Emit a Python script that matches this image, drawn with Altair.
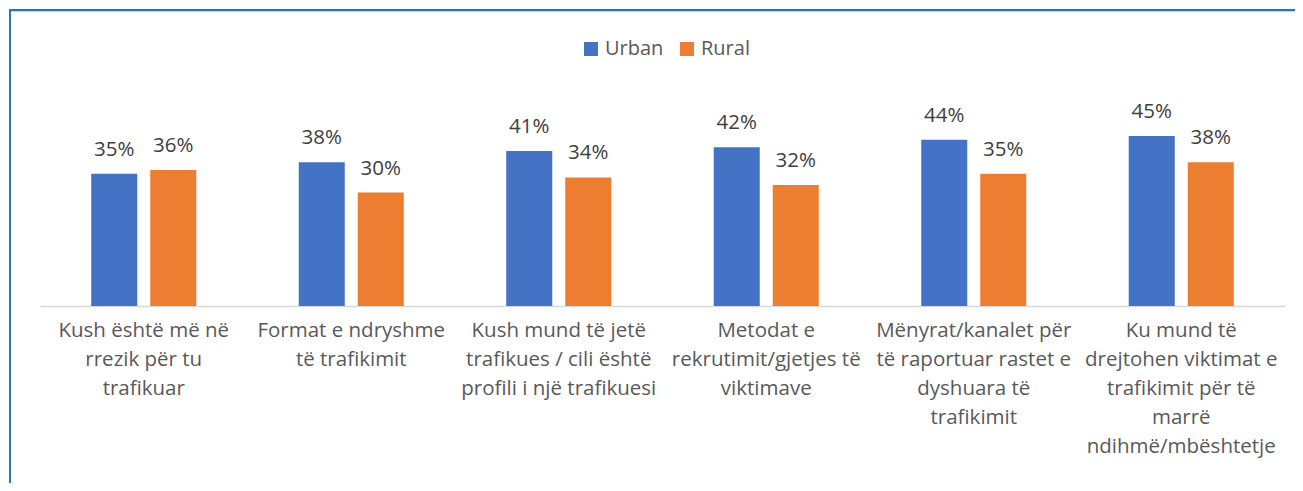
import altair as alt
import pandas as pd

categories = [
    "Kush është më në|rrezik për tu|trafikuar",
    "Format e ndryshme|të trafikimit",
    "Kush mund të jetë|trafikues / cili është|profili i një trafikuesi",
    "Metodat e|rekrutimit/gjetjes të|viktimave",
    "Mënyrat/kanalet për|të raportuar rastet e|dyshuara të|trafikimit",
    "Ku mund të|drejtohen viktimat e|trafikimit për të|marrë|ndihmë/mbështetje",
]
series = ["Urban", "Rural"]
urban = [35, 38, 41, 42, 44, 45]
rural = [36, 30, 34, 32, 35, 38]
colors = ["#4472C4", "#ED7D31"]

rows = []
for c, u, r in zip(categories, urban, rural):
    rows.append({"cat": c, "group": "Urban", "value": u})
    rows.append({"cat": c, "group": "Rural", "value": r})
df = pd.DataFrame(rows)

FONT = "Open Sans"

base = alt.Chart(df).encode(
    x=alt.X(
        "cat:N",
        sort=categories,
        title=None,
        scale=alt.Scale(paddingInner=0, paddingOuter=0),
        axis=alt.Axis(
            labelExpr="split(datum.label, '|')",
            labelAngle=0,
            labelFont=FONT,
            labelFontSize=20.5,
            labelColor="#595959",
            labelLineHeight=29,
            labelPadding=14,
            labelLimit=0,
            ticks=False,
            domainColor="#D9D9D9",
            domainWidth=1.5,
            grid=False,
        ),
    ),
    xOffset=alt.XOffset(
        "group:N",
        sort=series,
        scale=alt.Scale(paddingInner=0.22, paddingOuter=0.868),
    ),
    y=alt.Y("value:Q", scale=alt.Scale(domain=[0, 50]), axis=None),
)

bars = base.mark_bar().encode(
    color=alt.Color(
        "group:N",
        sort=series,
        scale=alt.Scale(domain=series, range=colors),
        legend=alt.Legend(
            title=None,
            orient="none",
            legendX=541,
            legendY=-78,
            direction="horizontal",
            symbolType="square",
            symbolSize=196,
            symbolStrokeWidth=0,
            labelFont=FONT,
            labelFontSize=20,
            labelColor="#595959",
            columnPadding=13,
            labelOffset=4,
        ),
    )
)

labels = base.transform_calculate(
    lbl="format(datum.value, 'd') + '%'"
).mark_text(
    font=FONT, fontSize=20.5, color="#404040", baseline="alphabetic", dy=-18
).encode(text="lbl:N")

frame = alt.Chart(alt.Data(values=[{}])).mark_rect(
    fill=None, stroke="#2E75B6", strokeWidth=2
).encode(
    x=alt.value(-30), x2=alt.value(1400), y=alt.value(-107), y2=alt.value(500)
)

frame_inner = alt.Chart(alt.Data(values=[{}])).mark_rule(
    stroke="#BDD7EE", strokeWidth=1
).encode(
    x=alt.value(-29), x2=alt.value(1400), y=alt.value(-105.5)
)

chart = alt.layer(frame, frame_inner, bars, labels).properties(
    width=1245,
    height=189,
    autosize=alt.AutoSizeParams(type="none"),
    padding={"left": 32, "top": 109, "right": 10, "bottom": 177},
).configure_view(stroke=None)

chart.save("out.html", embed_options={"renderer": "svg", "actions": False})
